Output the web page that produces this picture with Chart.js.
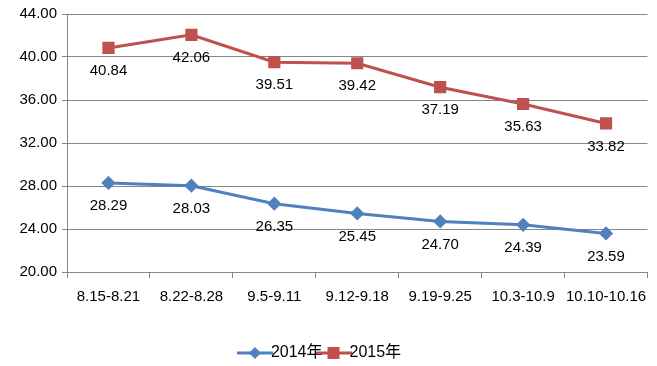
<!DOCTYPE html>
<html>
<head>
<meta charset="utf-8">
<script src="https://cdn.jsdelivr.net/npm/chart.js@4"></script>
<style>
    html, body { margin: 0; padding: 0; background: #fff; }
    #wrap { width: 657px; height: 366px; }
</style>
</head>
<body>
<div id="wrap"><canvas id="chart"></canvas></div>
<script>
// Chart data
const weeks = ['8.15-8.21', '8.22-8.28', '9.5-9.11', '9.12-9.18', '9.19-9.25', '10.3-10.9', '10.10-10.16'];
const values2014 = [28.29, 28.03, 26.35, 25.45, 24.70, 24.39, 23.59];
const values2015 = [40.84, 42.06, 39.51, 39.42, 37.19, 35.63, 33.82];
const seriesNames = ['2014年', '2015年'];
const yTicks = [20, 24, 28, 32, 36, 40, 44];

const FONT = "'Liberation Sans', 'Noto Sans CJK SC', sans-serif";
const BLUE = '#4F81BD';
const RED = '#C0504D';

// legend icon: short line with marker in the middle
function legendIcon(color, shape) {
    const c = document.createElement('canvas');
    c.width = 36;
    c.height = 14;
    const ctx = c.getContext('2d');
    ctx.strokeStyle = color;
    ctx.lineWidth = 3;
    ctx.beginPath();
    ctx.moveTo(0, 7);
    ctx.lineTo(36, 7);
    ctx.stroke();
    ctx.fillStyle = color;
    if (shape === 'diamond') {
        ctx.beginPath();
        ctx.moveTo(18, 1);
        ctx.lineTo(24, 7);
        ctx.lineTo(18, 13);
        ctx.lineTo(12, 7);
        ctx.closePath();
        ctx.fill();
    } else {
        ctx.fillRect(12, 1, 12, 12);
    }
    return c;
}

// value labels under each point
const pointLabels = {
    id: 'pointLabels',
    afterDatasetsDraw(chart) {
        const ctx = chart.ctx;
        ctx.save();
        ctx.font = '15px ' + FONT;
        ctx.fillStyle = '#000';
        ctx.textAlign = 'center';
        ctx.textBaseline = 'middle';
        chart.data.datasets.forEach((ds, i) => {
            chart.getDatasetMeta(i).data.forEach((pt, j) => {
                ctx.fillText(ds.data[j].toFixed(2), pt.x, pt.y + 23);
            });
        });
        ctx.restore();
    }
};

new Chart(document.getElementById('chart'), {
    type: 'line',
    data: {
        labels: weeks,
        datasets: [{
            label: seriesNames[0],
            data: values2014,
            borderColor: BLUE,
            backgroundColor: BLUE,
            borderWidth: 3,
            pointStyle: 'rectRot',
            pointRadius: 5,
            pointHoverRadius: 5,
            tension: 0
        }, {
            label: seriesNames[1],
            data: values2015,
            borderColor: RED,
            backgroundColor: RED,
            borderWidth: 3,
            pointStyle: 'rect',
            pointRadius: 6.5,
            pointHoverRadius: 6.5,
            tension: 0
        }]
    },
    options: {
        responsive: true,
        maintainAspectRatio: false,
        animation: false,
        layout: {
            padding: { left: 0, right: 9, top: 9, bottom: -5 }
        },
        plugins: {
            tooltip: { enabled: false },
            legend: {
                position: 'bottom',
                labels: {
                    font: { family: FONT, size: 16 },
                    color: '#000',
                    usePointStyle: true,
                    padding: 3,
                    generateLabels(chart) {
                        return chart.data.datasets.map((ds, i) => ({
                            text: ds.label,
                            pointStyle: legendIcon(ds.borderColor, i === 0 ? 'diamond' : 'square'),
                            fillStyle: ds.borderColor,
                            strokeStyle: ds.borderColor,
                            lineWidth: 0,
                            fontColor: '#000',
                            datasetIndex: i
                        }));
                    }
                }
            }
        },
        scales: {
            x: {
                offset: true,
                grid: {
                    offset: true,
                    drawOnChartArea: false,
                    drawTicks: true,
                    tickLength: 6,
                    color: '#868686'
                },
                border: { display: true, color: '#868686', width: 1 },
                ticks: {
                    font: { family: FONT, size: 15 },
                    color: '#000',
                    padding: 10,
                    maxRotation: 0,
                    autoSkip: false
                },
                afterFit(scale) { scale.height = 70; }
            },
            y: {
                min: yTicks[0],
                max: yTicks[yTicks.length - 1],
                afterBuildTicks(scale) {
                    scale.ticks = yTicks.map(v => ({ value: v }));
                },
                grid: {
                    color: '#868686',
                    tickLength: 5,
                    lineWidth: 1
                },
                border: { display: true, color: '#868686' },
                ticks: {
                    font: { family: FONT, size: 15 },
                    color: '#000',
                    padding: 5,
                    callback: v => Number(v).toFixed(2)
                },
                afterFit(scale) { scale.width = 67; }
            }
        }
    },
    plugins: [pointLabels]
});
</script>
</body>
</html>
